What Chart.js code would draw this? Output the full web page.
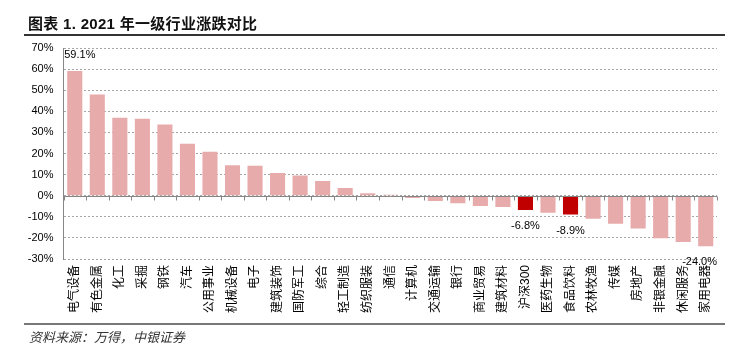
<!DOCTYPE html>
<html>
<head>
<meta charset="utf-8">
<script src="https://cdn.jsdelivr.net/npm/chart.js@4"></script>
<style>
  html, body { margin: 0; padding: 0; background: #fff; }
  #wrap { position: relative; width: 732px; height: 350px; overflow: hidden; }
  #chart { position: absolute; left: 0; top: 0; }
  .title { position: absolute; left: 28px; top: 12px; font: bold 15px "Liberation Sans", "Noto Sans CJK SC", sans-serif; color: #111; white-space: nowrap; letter-spacing: 0.3px; }
  .rule-top { position: absolute; left: 24px; top: 34px; width: 701px; height: 2px; background: #333; }
  .rule-bottom { position: absolute; left: 24px; top: 323px; width: 701px; height: 2px; background: #777; }
  .source { position: absolute; left: 29px; top: 327px; font: italic 13px "Noto Sans CJK SC", sans-serif; color: #333; white-space: nowrap; }
</style>
</head>
<body>
<div id="wrap">
  <canvas id="chart" width="732" height="350"></canvas>
  <div class="title">图表 1. 2021 年一级行业涨跌对比</div>
  <div class="rule-top"></div>
  <div class="rule-bottom"></div>
  <div class="source">资料来源：万得，中银证券</div>
</div>
<script>
// 行业
const categories = ['电气设备', '有色金属', '化工', '采掘', '钢铁', '汽车', '公用事业', '机械设备', '电子', '建筑装饰',
  '国防军工', '综合', '轻工制造', '纺织服装', '通信', '计算机', '交通运输', '银行', '商业贸易', '建筑材料',
  '沪深300', '医药生物', '食品饮料', '农林牧渔', '传媒', '房地产', '非银金融', '休闲服务', '家用电器'];
// 2021 涨跌幅 (%)
const changes = [59.1, 48.0, 36.9, 36.5, 33.8, 24.6, 20.8, 14.4, 14.2, 10.7,
  9.6, 7.0, 3.6, 1.2, 0.5, -1.1, -2.5, -3.6, -4.9, -5.3,
  -6.8, -8.1, -8.9, -10.9, -13.3, -15.5, -20.2, -21.9, -24.0];
const highlighted = ['沪深300', '食品饮料'];
const labeled = ['电气设备', '沪深300', '食品饮料', '家用电器'];
const yMin = -30, yMax = 70, yStep = 10;

const PINK = '#e8abab';
const RED = '#c00000';
const NUM_FONT = '"Liberation Sans", Arial, sans-serif';
const CJK_FONT = '"Liberation Sans", "Noto Sans CJK SC", sans-serif';

// 零轴、刻度和数据标签
const overlay = {
  id: 'overlay',
  afterDatasetsDraw(chart) {
    const { ctx, chartArea, scales: { x, y } } = chart;
    const y0 = Math.round(y.getPixelForValue(0)) + 0.5;
    ctx.save();
    ctx.strokeStyle = '#868686';
    ctx.lineWidth = 1;
    ctx.beginPath();
    ctx.moveTo(chartArea.left, y0);
    ctx.lineTo(chartArea.right, y0);
    for (let i = 0; i <= categories.length; i++) {
      const px = Math.round(x.getPixelForValue(i - 0.5)) + 0.5;
      ctx.moveTo(px, y0);
      ctx.lineTo(px, y0 + 4);
    }
    ctx.stroke();

    ctx.fillStyle = '#000';
    ctx.font = '11px ' + NUM_FONT;
    ctx.textBaseline = 'middle';
    const bars = chart.getDatasetMeta(0).data;
    categories.forEach((c, i) => {
      if (!labeled.includes(c)) return;
      const bar = bars[i];
      const v = changes[i];
      const txt = v.toFixed(1) + '%';
      const w = ctx.measureText(txt).width;
      if (v >= 0) {
        ctx.textAlign = 'left';
        ctx.fillText(txt, bar.x - bar.width / 2 - 3, bar.y - 16);
      } else {
        ctx.textAlign = 'center';
        const cx = Math.min(bar.x, chartArea.right - w / 2);
        ctx.fillText(txt, cx, bar.y + 16);
      }
    });
    ctx.restore();
  }
};

new Chart(document.getElementById('chart'), {
  type: 'bar',
  data: {
    labels: categories,
    datasets: [{
      data: changes,
      backgroundColor: categories.map(c => highlighted.includes(c) ? RED : PINK),
      borderWidth: 0,
      barPercentage: 0.67,
      categoryPercentage: 1
    }]
  },
  options: {
    responsive: false,
    animation: false,
    devicePixelRatio: 1,
    layout: { padding: { top: 48, left: 0, right: 15, bottom: 30 } },
    plugins: { legend: { display: false }, tooltip: { enabled: false } },
    scales: {
      x: {
        grid: { display: false, drawTicks: false },
        border: { display: false },
        ticks: {
          autoSkip: false, maxRotation: 90, minRotation: 90, padding: 6,
          color: '#000', font: { size: 12, family: CJK_FONT }
        },
        afterFit(scale) { scale.height = 61; }
      },
      y: {
        min: yMin, max: yMax,
        grid: { color: '#a6a6a6', lineWidth: 1, drawTicks: false },
        border: { display: true, color: '#868686', width: 1, dash: [2, 2] },
        ticks: {
          stepSize: yStep, padding: 10, color: '#000',
          font: { size: 11, family: NUM_FONT },
          callback: v => v + '%'
        },
        afterFit(scale) { scale.width = 63.5; }
      }
    }
  },
  plugins: [overlay]
});
</script>
</body>
</html>
